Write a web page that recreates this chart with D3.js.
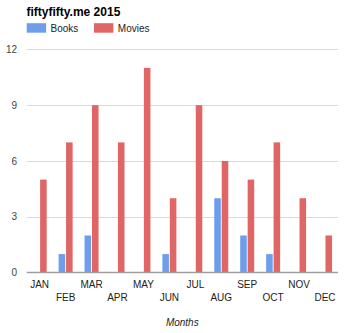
<!DOCTYPE html>
<html><head><meta charset="utf-8">
<script src="https://cdn.jsdelivr.net/npm/d3@7"></script>
<style>body{margin:0;background:#fff}svg{display:block;font-family:Arial,"Liberation Sans",sans-serif}</style>
</head><body><svg id="c" width="350" height="333"></svg>
<script>
const months = ["JAN","FEB","MAR","APR","MAY","JUN","JUL","AUG","SEP","OCT","NOV","DEC"];
const seriesNames = ["Books","Movies"];
const books = [0,1,2,0,0,1,0,4,2,1,0,0];
const movies = [5,7,9,7,11,4,9,6,5,7,4,2];
const yTicks = [0,3,6,9,12];
const colors = ["#6d9eeb","#e06666"];

const svg = d3.select("#c");
const x = d3.scaleBand().domain(months).range([26.7,338]).paddingInner(0).paddingOuter(0);
const xs = d3.scaleBand().domain(seriesNames).range([x.bandwidth()/2-7, x.bandwidth()/2+7]).paddingInner(0.12);
const y = d3.scaleLinear().domain([0,12]).range([272.7,49.3]);

// gridlines
svg.append("g").selectAll("line").data(yTicks.filter(d=>d>0)).join("line")
  .attr("x1",26.7).attr("x2",338).attr("y1",d=>Math.round(y(d))+0.5).attr("y2",d=>Math.round(y(d))+0.5)
  .attr("stroke","#d9d9d9").attr("stroke-width",1);
// y labels
svg.append("g").selectAll("text").data(yTicks).join("text")
  .attr("x",17).attr("y",d=>y(d)).attr("dy","0.35em").attr("text-anchor","end")
  .attr("font-size",10).attr("fill","#444").text(d=>d);

const data = [books, movies];
const groups = svg.append("g").selectAll("g").data(seriesNames).join("g")
  .attr("fill",(d,i)=>colors[i]);
groups.selectAll("rect").data((s,i)=>months.map((m,j)=>({m, s, v:data[i][j]}))).join("rect")
  .attr("x",d=>x(d.m)+xs(d.s)).attr("width",xs.bandwidth())
  .attr("y",d=>y(d.v)).attr("height",d=>y(0)-y(d.v));

// baseline
svg.append("line").attr("x1",26.7).attr("x2",338).attr("y1",272.5).attr("y2",272.5)
  .attr("stroke","#9e9e9e").attr("stroke-width",1.3);

// x labels staggered
svg.append("g").selectAll("text").data(months).join("text")
  .attr("x",d=>x(d)+x.bandwidth()/2).attr("y",(d,i)=>i%2===0?284:297.5).attr("dy","0.35em")
  .attr("text-anchor","middle").attr("font-size",10).attr("fill","#222").text(d=>d);

svg.append("text").attr("x",182.3).attr("y",322).attr("dy","0.35em").attr("text-anchor","middle")
  .attr("font-size",10).attr("font-style","italic").attr("fill","#222").text("Months");

// title
svg.append("text").attr("x",26.5).attr("y",15.7).attr("font-size",12).attr("font-weight","bold")
  .attr("fill","#000").text("fiftyfifty.me 2015");

// legend
const lx = [26.7,94];
const lg = svg.append("g").selectAll("g").data(seriesNames).join("g")
  .attr("transform",(d,i)=>`translate(${lx[i]},23.2)`);
lg.append("rect").attr("width",19.4).attr("height",9.5).attr("fill",(d,i)=>colors[i]);
lg.append("text").attr("x",23.8).attr("y",4.8).attr("dy","0.35em").attr("font-size",10).attr("fill","#222").text(d=>d);
</script></body></html>
